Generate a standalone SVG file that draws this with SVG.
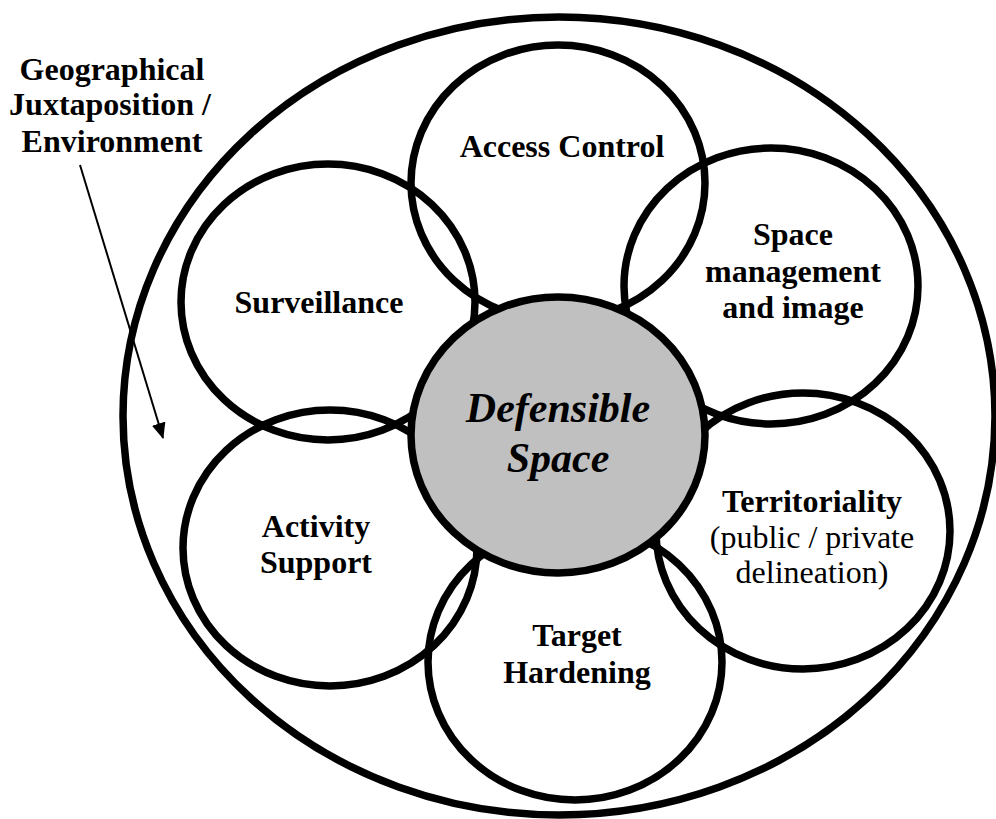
<svg xmlns="http://www.w3.org/2000/svg" width="996" height="819" viewBox="0 0 996 819">
<style>
.ring{fill:none;stroke:#000;stroke-width:7.5}
.core{fill:#c0c0c0;stroke:#000;stroke-width:7.5}
.t{font-family:"Liberation Serif","Times New Roman",serif;font-size:32px;font-weight:bold;fill:#000;text-anchor:middle}
.r{font-weight:normal}
.ds{font-family:"Liberation Serif","Times New Roman",serif;font-size:42px;font-weight:bold;font-style:italic;fill:#000;text-anchor:middle}
.conn{stroke:#000;stroke-width:2;fill:none}
</style>
<defs>
<marker id="ah" markerWidth="16" markerHeight="14" refX="15" refY="7" orient="auto" markerUnits="userSpaceOnUse" viewBox="0 0 16 14">
<path d="M0,0 L16,7 L0,14 z" fill="#000"/>
</marker>
</defs>
<rect width="996" height="819" fill="#fff"/>
<g id="environment">
<ellipse class="ring" cx="559" cy="416" rx="436" ry="399"/>
</g>
<g id="access-control">
<ellipse class="ring" cx="558" cy="183" rx="147" ry="138"/>
<text class="t" x="562" y="157">Access Control</text>
</g>
<g id="surveillance">
<ellipse class="ring" cx="328" cy="302" rx="147" ry="138"/>
<text class="t" x="319" y="313">Surveillance</text>
</g>
<g id="space-management">
<ellipse class="ring" cx="771" cy="286" rx="147" ry="138"/>
<text class="t" x="793" y="245">Space</text>
<text class="t" x="793" y="282">management</text>
<text class="t" x="793" y="318">and image</text>
</g>
<g id="activity-support">
<ellipse class="ring" cx="330" cy="548" rx="147" ry="138"/>
<text class="t" x="316" y="537">Activity</text>
<text class="t" x="316" y="573">Support</text>
</g>
<g id="territoriality">
<ellipse class="ring" cx="803" cy="531" rx="147" ry="138"/>
<text class="t" x="812" y="512">Territoriality</text>
<text class="t r" x="812" y="548">(public / private</text>
<text class="t r" x="812" y="583">delineation)</text>
</g>
<g id="target-hardening">
<ellipse class="ring" cx="575" cy="662" rx="147" ry="138"/>
<text class="t" x="577" y="646">Target</text>
<text class="t" x="577" y="683">Hardening</text>
</g>
<g id="defensible-space">
<ellipse class="core" cx="558" cy="435" rx="147" ry="138"/>
<text class="ds" x="558" y="422">Defensible</text>
<text class="ds" x="558" y="472">Space</text>
</g>
<g id="geo-label">
<text class="t" x="112" y="80">Geographical</text>
<text class="t" x="110" y="115">Juxtaposition /</text>
<text class="t" x="112" y="152">Environment</text>
</g>
<g id="connectors">
<line class="conn" x1="80" y1="165" x2="163" y2="438" marker-end="url(#ah)"/>
</g>
</svg>
